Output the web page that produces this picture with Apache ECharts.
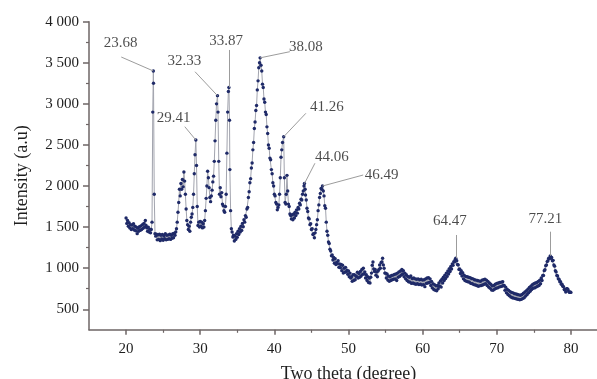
<!DOCTYPE html>
<html><head><meta charset="utf-8">
<script src="https://cdn.jsdelivr.net/npm/echarts@6/dist/echarts.min.js"></script>
<style>html,body{margin:0;padding:0;background:#fff}#c{width:597px;height:379px}</style>
</head><body><div id="c"></div><script>
// XRD scan: [two theta (deg), intensity (a.u.)]
const scanA = [
[20.0,1610],[20.1,1545],[20.2,1580],[20.3,1510],[20.4,1555],[20.5,1490],[20.6,1530],[20.7,1470],[20.8,1525],[20.9,1480],
[21.0,1540],[21.1,1465],[21.2,1510],[21.3,1455],[21.4,1500],[21.5,1420],[21.6,1485],[21.7,1450],[21.8,1505],[21.9,1460],
[22.0,1515],[22.1,1470],[22.2,1530],[22.3,1485],[22.4,1545],[22.5,1500],[22.6,1580],[22.7,1520],[22.8,1490],[22.9,1450],
[23.0,1500],[23.1,1440],[23.2,1475],[23.3,1430],[23.4,1470],[23.5,1560],[23.6,2900],[23.68,3400],[23.7,3250],[23.8,1900],[23.9,1420],
[24.0,1390],[24.1,1415],[24.2,1345],[24.3,1405],[24.4,1350],[24.5,1415],[24.6,1335],[24.7,1400],[24.8,1355],[24.9,1410],
[25.0,1340],[25.1,1395],[25.2,1360],[25.3,1420],[25.4,1345],[25.5,1400],[25.6,1350],[25.7,1405],[25.8,1360],[25.9,1415],
[26.0,1350],[26.1,1400],[26.2,1365],[26.3,1420],[26.4,1370],[26.5,1425],[26.6,1400],[26.7,1440],[26.8,1480],[26.9,1560],
[27.0,1680],[27.1,1800],[27.2,1960],[27.3,1880],[27.4,2030],[27.5,1960],[27.6,2080],[27.7,1990],[27.8,2170],[27.9,2060],
[28.0,1900],[28.1,1720],[28.2,1580],[28.3,1530],[28.4,1470],[28.5,1510],[28.6,1450],[28.7,1560],[28.8,1620],[28.9,1660],
[29.0,1740],[29.1,1900],[29.2,2150],[29.3,2380],[29.41,2560],[29.5,2250],[29.6,1750],[29.7,1520],[29.8,1560],[29.9,1500],
[30.0,1570],[30.1,1510],[30.2,1560],[30.3,1490],[30.4,1540],[30.5,1500],[30.6,1580],[30.7,1700],[30.8,1850],[30.9,2000],
[31.0,2180],[31.1,2100],[31.2,1980],[31.3,1860],[31.4,1810],[31.5,1880],[31.6,1950],[31.7,2050],[31.8,2120],[31.9,2300],
[32.0,2550],[32.1,2800],[32.2,3000],[32.33,3100],[32.4,2900],[32.5,2300],[32.6,1900],[32.7,1980],[32.8,1870],[32.9,1920],
[33.0,1780],[33.1,1760],[33.2,1700],[33.3,1680],[33.4,1750],[33.5,1900],[33.6,2400],[33.7,2900],[33.8,3150],[33.87,3200],[33.95,2800]
];
const scanB = [
[34.0,2200],[34.1,1700],[34.2,1480],[34.3,1440],[34.4,1380],[34.5,1400],[34.6,1330],[34.7,1390],[34.8,1350],[34.9,1420],
[35.0,1375],[35.1,1450],[35.2,1410],[35.3,1480],[35.4,1440],[35.5,1510],[35.6,1460],[35.7,1545],[35.8,1505],[35.9,1590],
[36.0,1560],[36.1,1640],[36.2,1620],[36.3,1720],[36.4,1740],[36.5,1860],[36.6,1930],[36.7,2040],[36.8,2090],[36.9,2220],
[37.0,2280],[37.1,2440],[37.2,2530],[37.3,2700],[37.4,2780],[37.5,2920],[37.6,2980],[37.7,3170],[37.8,3280],[37.9,3440],
[38.0,3500],[38.08,3560],[38.2,3470],[38.3,3400],[38.4,3240],[38.5,3200],[38.6,3060],[38.7,3020],[38.8,2900],[38.9,2870],
[39.0,2720],[39.1,2640],[39.2,2500],[39.3,2460],[39.4,2340],[39.5,2320],[39.6,2200],[39.7,2150],[39.8,2040],[39.9,2000],
[40.0,1900],[40.1,1880],[40.2,1800],[40.3,1780],[40.4,1710],[40.5,1740],[40.6,1770],[40.7,1900],[40.8,2100],[40.9,2350],
[41.0,2440],[41.1,2530],[41.26,2600],[41.35,2100],[41.45,1800],[41.55,1780],[41.6,1900],[41.7,2130],[41.8,1940],[41.9,1780],
[42.0,1750],[42.1,1660],[42.2,1640],[42.3,1600],[42.4,1650],[42.5,1590],[42.6,1660],[42.7,1610],[42.8,1680],[42.9,1640],
[43.0,1710],[43.1,1670],[43.2,1740],[43.3,1720],[43.4,1790],[43.5,1770],[43.6,1840],[43.7,1830],[43.8,1900],[43.9,1940],
[44.0,2000],[44.06,2030],[44.15,1960],[44.2,1890],[44.3,1830],[44.4,1730],[44.5,1690],[44.6,1610],[44.7,1600],[44.8,1530],
[44.9,1540],[45.0,1470],[45.1,1480],[45.2,1410],[45.3,1420],[45.4,1370],[45.5,1430],[45.6,1470],[45.7,1530],[45.8,1590],
[45.9,1700],[46.0,1770],[46.1,1860],[46.2,1910],[46.3,1970],[46.4,1960],[46.49,2000],[46.6,1940],[46.7,1880],[46.8,1760],
[46.9,1730],[47.0,1560],[47.1,1450],[47.2,1400],[47.3,1320],[47.4,1300],[47.5,1230],[47.6,1210],[47.7,1150],[47.8,1160],[47.9,1100]
];
const scanC = [
[48.0,1130],[48.1,1060],[48.2,1115],[48.3,1045],[48.4,1070],[48.5,1055],[48.6,1090],[48.7,1010],[48.8,1050],[48.9,1005],
[49.0,1045],[49.1,970],[49.2,1035],[49.3,940],[49.4,1000],[49.5,950],[49.6,1010],[49.7,955],[49.8,975],[49.9,925],
[50.0,965],[50.1,895],[50.2,940],[50.3,880],[50.4,895],[50.5,840],[50.6,920],[50.7,850],[50.8,920],[50.9,860],
[51.0,905],[51.1,895],[51.2,950],[51.3,880],[51.4,935],[51.5,890],[51.6,960],[51.7,905],[51.8,985],[51.9,925],
[52.0,1000],[52.1,930],[52.2,955],[52.3,880],[52.4,920],[52.5,850],[52.6,895],[52.7,825],[52.8,880],[52.9,820],
[53.0,890],[53.1,940],[53.2,1035],[53.3,1075],[53.4,990],[53.5,960],[53.6,985],[53.7,915],[53.8,955],[53.9,895],
[54.0,965],[54.1,985],[54.2,1040],[54.3,1000],[54.4,1070],[54.5,1075],[54.6,1120],[54.7,1040],[54.8,1000],[54.9,940],
[55.0,940],[55.1,880],[55.2,930],[55.3,855],[55.4,905],[55.5,840],[55.6,895],[55.7,850],[55.8,910],[55.9,860],
[56.0,915],[56.1,865],[56.2,925],[56.3,870],[56.4,930],[56.5,850],[56.6,940],[56.7,890],[56.8,955],[56.9,900],
[57.0,965],[57.1,915],[57.2,985],[57.3,930],[57.4,970],[57.5,895],[57.6,940],[57.7,870],[57.8,920],[57.9,850],
[58.0,900],[58.1,835],[58.2,890],[58.3,830],[58.4,905],[58.5,815],[58.6,875],[58.7,820],[58.8,880],[58.9,810],
[59.0,870],[59.1,805],[59.2,865],[59.3,810],[59.4,870],[59.5,800],[59.6,860],[59.7,805],[59.8,865],[59.9,795],
[60.0,855],[60.1,800],[60.2,860],[60.3,775],[60.4,870],[60.5,815],[60.6,880],[60.7,820],[60.8,885],[60.9,825],
[61.0,870],[61.1,790],[61.2,840],[61.3,760],[61.4,810],[61.5,740],[61.6,800],[61.7,730],[61.8,785],[61.9,725],
[62.0,790],[62.1,750],[62.2,820],[62.3,780],[62.4,845],[62.5,770],[62.6,865],[62.7,820],[62.8,890],[62.9,850],
[63.0,915],[63.1,875],[63.2,940],[63.3,900],[63.4,965],[63.5,930],[63.6,995],[63.7,960],[63.8,1020],[63.9,990]
];
const scanD = [
[64.0,1050],[64.1,1035],[64.2,1080],[64.3,1075],[64.4,1110],[64.47,1120],[64.5,1095],[64.6,1090],[64.7,1045],[64.8,1040],[64.9,985],
[65.0,990],[65.1,935],[65.2,970],[65.3,905],[65.4,945],[65.5,870],[65.6,915],[65.7,850],[65.8,900],[65.9,840],
[66.0,895],[66.1,835],[66.2,890],[66.3,830],[66.4,885],[66.5,815],[66.6,875],[66.7,810],[66.8,870],[66.9,800],
[67.0,860],[67.1,795],[67.2,855],[67.3,790],[67.4,850],[67.5,780],[67.6,845],[67.7,785],[67.8,840],[67.9,790],
[68.0,855],[68.1,795],[68.2,860],[68.3,805],[68.4,865],[68.5,810],[68.6,855],[68.7,790],[68.8,840],[68.9,770],
[69.0,820],[69.1,755],[69.2,805],[69.3,735],[69.4,785],[69.5,730],[69.6,790],[69.7,745],[69.8,805],[69.9,755],
[70.0,815],[70.1,760],[70.2,820],[70.3,770],[70.4,825],[70.5,775],[70.6,830],[70.7,780],[70.8,835],[70.9,790],
[71.0,790],[71.1,730],[71.2,770],[71.3,700],[71.4,745],[71.5,680],[71.6,730],[71.7,665],[71.8,715],[71.9,650],
[72.0,705],[72.1,640],[72.2,700],[72.3,635],[72.4,690],[72.5,630],[72.6,685],[72.7,625],[72.8,680],[72.9,620],
[73.0,675],[73.1,615],[73.2,670],[73.3,620],[73.4,680],[73.5,630],[73.6,695],[73.7,640],[73.8,710],[73.9,660],
[74.0,725],[74.1,680],[74.2,745],[74.3,700],[74.4,765],[74.5,720],[74.6,780],[74.7,740],[74.8,800],[74.9,755],
[75.0,810],[75.1,760],[75.2,820],[75.3,770],[75.4,825],[75.5,780],[75.6,840],[75.7,790],[75.8,855],[75.9,810],
[76.0,880],[76.1,850],[76.2,910],[76.3,910],[76.4,970],[76.5,980],[76.6,1030],[76.7,1040],[76.8,1080],[76.9,1090],
[77.0,1120],[77.1,1120],[77.21,1150],[77.3,1120],[77.4,1130],[77.5,1090],[77.6,1095],[77.7,1040],[77.8,1025],[77.9,970],
[78.0,955],[78.1,910],[78.2,905],[78.3,870],[78.4,865],[78.5,835],[78.6,835],[78.7,805],[78.8,805],[78.9,780],
[79.0,775],[79.1,740],[79.2,735],[79.3,710],[79.4,750],[79.5,750],[79.6,740],[79.7,715],[79.8,705],[79.9,710],[80.0,705]
];

// peak annotations
const peakNames = ['23.68','29.41','32.33','33.87','38.08','41.26','44.06','46.49','64.47','77.21'];
const peakAngles = [23.68, 29.41, 32.33, 33.87, 38.08, 41.26, 44.06, 46.49, 64.47, 77.21];
const peakHeights = [3400, 2560, 3100, 3200, 3560, 2600, 2030, 2000, 1120, 1150];
const leaderAngles = [19.35, 27.92, 29.3, 33.87, 42.09, 44.25, 45.47, 51.98, 64.47, 77.21];
const leaderHeights = [3570, 2722, 3391, 3656, 3635, 2885, 2277, 2134, 1404, 1444];
const labelAngles = [19.28, 26.4, 27.88, 33.5, 44.25, 47.08, 47.77, 54.47, 63.68, 76.57];
const labelHeights = [3735, 2828, 3522, 3767, 3686, 2962, 2357, 2138, 1574, 1603];

// axis ticks
const xMajorTicks = [20, 30, 40, 50, 60, 70, 80];
const xMinorTicks = [25, 35, 45, 55, 65, 75];
const yMajorTicks = [500, 1000, 1500, 2000, 2500, 3000, 3500, 4000];
const yMinorTicks = [750, 1250, 1750, 2250, 2750, 3250, 3750];

const FONT = "'Liberation Serif','Times New Roman',serif";
const AXIS = '#6e6666';
const TXT = '#1e1e1e';

const scan = scanA.concat(scanB, scanC, scanD);
const leaders = peakAngles.map((a, i) => [
  {coord: [a, peakHeights[i]]},
  {coord: [leaderAngles[i], leaderHeights[i]]}
]);
const labels = peakNames.map((n, i) => [labelAngles[i], labelHeights[i], n]);

const fmtY = v => v >= 1000 ? Math.floor(v / 1000) + ' ' + String(v % 1000).padStart(3, '0') : String(v);

const chart = echarts.init(document.getElementById('c'), null, {renderer: 'canvas'});
chart.setOption({
  animation: false,
  backgroundColor: '#fff',
  grid: {left: 89, right: -11, top: 21.7, bottom: 49.2, containLabel: false, outerBoundsMode: 'none'},
  xAxis: [{
    type: 'value', min: 15, max: 85,
    name: 'Two theta (degree)', nameLocation: 'middle', nameGap: 35,
    nameTextStyle: {fontFamily: FONT, fontSize: 18, color: TXT},
    axisLine: {show: true, lineStyle: {color: AXIS, width: 1.5}},
    axisTick: {show: true, customValues: xMajorTicks, length: 5, lineStyle: {color: AXIS, width: 1.5}},
    axisLabel: {customValues: xMajorTicks, margin: 12, fontFamily: FONT, fontSize: 15, color: TXT},
    splitLine: {show: false}
  }, {
    type: 'value', min: 15, max: 85, position: 'bottom',
    axisLine: {show: false},
    axisTick: {show: true, customValues: xMinorTicks, length: 3, lineStyle: {color: AXIS, width: 1.2}},
    axisLabel: {show: false}, splitLine: {show: false}
  }],
  yAxis: [{
    type: 'value', min: 250, max: 4000,
    name: 'Intensity (a.u)', nameLocation: 'middle', nameGap: 58, nameRotate: 90,
    nameTextStyle: {fontFamily: FONT, fontSize: 18, color: TXT},
    axisLine: {show: true, lineStyle: {color: AXIS, width: 1.5}},
    axisTick: {show: true, customValues: yMajorTicks, length: 6, lineStyle: {color: AXIS, width: 1.5}},
    axisLabel: {customValues: yMajorTicks, margin: 10, fontFamily: FONT, fontSize: 15, color: TXT, formatter: fmtY},
    splitLine: {show: false}
  }, {
    type: 'value', min: 250, max: 4000, position: 'left',
    axisLine: {show: false},
    axisTick: {show: true, customValues: yMinorTicks, length: 3, lineStyle: {color: AXIS, width: 1.2}},
    axisLabel: {show: false}, splitLine: {show: false}
  }],
  series: [{
    type: 'line', name: 'XRD', data: scan, xAxisIndex: 0, yAxisIndex: 0,
    showSymbol: true, symbol: 'circle', symbolSize: 3.4,
    itemStyle: {color: '#1f2a68'},
    lineStyle: {color: '#a2a4ae', width: 1},
    silent: true, z: 3,
    markLine: {
      silent: true, symbol: ['none', 'none'], animation: false,
      label: {show: false},
      lineStyle: {color: '#9c9c9c', width: 1, type: 'solid'},
      emphasis: {disabled: true},
      data: leaders
    }
  }, {
    type: 'scatter', name: 'labels', data: labels, xAxisIndex: 0, yAxisIndex: 0,
    symbolSize: 1, itemStyle: {color: 'rgba(0,0,0,0)'}, silent: true, z: 5,
    label: {show: true, position: 'inside', formatter: p => p.value[2],
      fontFamily: FONT, fontSize: 15, color: TXT}
  }]
});
</script></body></html>
